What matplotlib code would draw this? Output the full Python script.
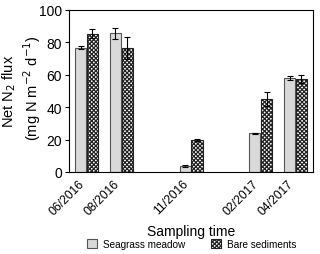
import numpy as np
import matplotlib
matplotlib.use("Agg")
import matplotlib.pyplot as plt
from matplotlib.patches import Patch

plt.rcParams['font.family'] = ['Liberation Sans', 'DejaVu Sans']
plt.rcParams['hatch.linewidth'] = 0.9

dates = ['06/2016', '08/2016', '11/2016', '02/2017', '04/2017']
slots = [0, 1, 3, 5, 6]

seagrass = [76.7, 85.6, 3.7, 23.9, 57.9]
seagrass_err = [0.8, 3.5, 0.7, 0.3, 1.2]
bare = [85.4, 76.5, 19.8, 45.0, 57.5]
bare_err = [2.6, 6.5, 0.8, 4.3, 2.5]

fig = plt.figure(figsize=(3.2, 2.55), dpi=100)
ax = fig.add_axes([0.216, 0.322, 0.762, 0.635])

x = np.array(slots, dtype=float)
w = 0.32
ax.bar(x - w/2 - 0.01, seagrass, w, yerr=seagrass_err, color='#d9d9d9',
       edgecolor='#555555', linewidth=0.8, capsize=2.5,
       error_kw=dict(elinewidth=0.8, capthick=0.8, ecolor='black'))
ax.bar(x + w/2 + 0.01, bare, w, yerr=bare_err, color='white', hatch='xxxxxxxx',
       edgecolor='#222222', linewidth=0.8, capsize=2.5,
       error_kw=dict(elinewidth=0.8, capthick=0.8, ecolor='black'))

ax.set_xlim(-0.5, 6.5)
ax.set_ylim(0, 100)
ax.set_yticks([0, 20, 40, 60, 80, 100])
ax.set_xticks(x)
ax.set_xticklabels(dates, rotation=45, ha='right')
ax.tick_params(axis='x', length=0, pad=4, labelsize=8.7)
ax.tick_params(axis='y', length=3, width=0.8, labelsize=10, pad=2)
for s in ax.spines.values():
    s.set_linewidth(0.8)

ax.set_xlabel('Sampling time', fontsize=10, labelpad=5)
# y label as two separate lines (mathtext makes the line gap uneven)
fig.text(0.03, 0.64, 'Net N$_2$ flux', rotation=90, ha='center', va='center',
         fontsize=10.5)
fig.text(0.10, 0.655, '(mg N m$^{-2}$ d$^{-1}$)', rotation=90, ha='center',
         va='center', fontsize=10.5)

handles = [Patch(facecolor='#d9d9d9', edgecolor='#555555', linewidth=0.8),
           Patch(facecolor='white', edgecolor='#222222', hatch='xxxxxxxx', linewidth=0.8)]
fig.legend(handles, ['Seagrass meadow', 'Bare sediments'], loc='center',
           bbox_to_anchor=(0.6, 0.04), ncol=2, frameon=False, fontsize=7.2,
           handlelength=1.0, handleheight=1.1, columnspacing=2.6, handletextpad=0.6)

fig.savefig('out.png', dpi=100)
